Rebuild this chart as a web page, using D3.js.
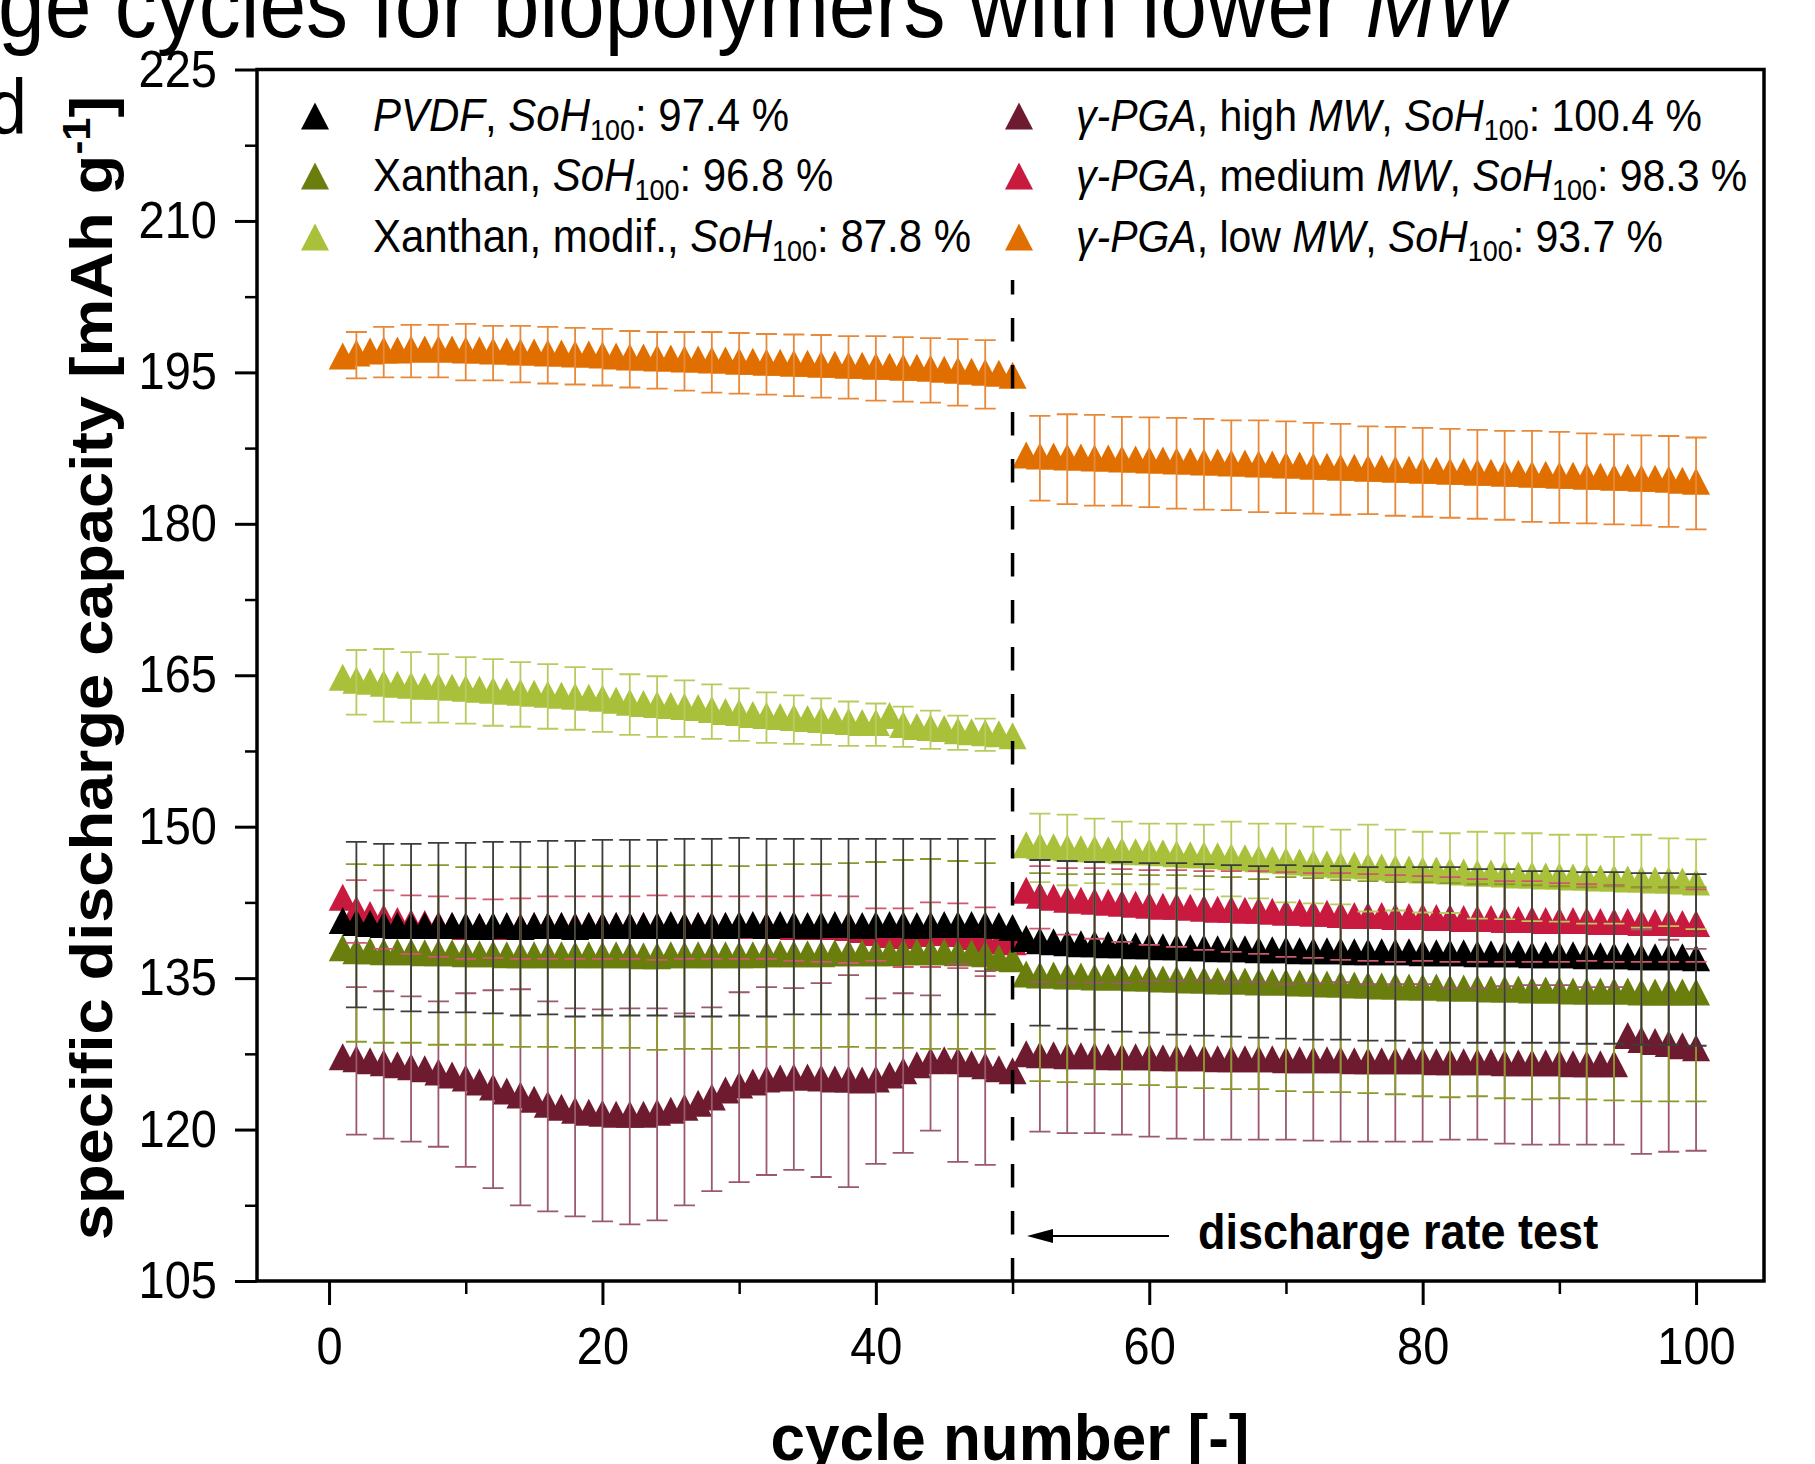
<!DOCTYPE html>
<html><head><meta charset="utf-8">
<script src="https://cdn.jsdelivr.net/npm/d3@7"></script>
<style>
body{margin:0;background:#fff}
svg{display:block}
text{font-family:"Liberation Sans",Arial,Helvetica,sans-serif;fill:#000}
</style>
</head><body>
<svg id="chart" width="1815" height="1464"></svg>
<script>
// ---------------- data ----------------
const cycles = [1,2,3,4,5,6,7,8,9,10,11,12,13,14,15,16,17,18,19,20,21,22,23,24,25,26,27,28,29,30,31,32,33,34,35,36,37,38,39,40,41,42,43,44,45,46,47,48,49,50,
51,52,53,54,55,56,57,58,59,60,61,62,63,64,65,66,67,68,69,70,71,72,73,74,75,76,77,78,79,80,81,82,83,84,85,86,87,88,89,90,91,92,93,94,95,96,97,98,99,100];
const errCycles = [2,4,6,8,10,12,14,16,18,20,22,24,26,28,30,32,34,36,38,40,42,44,46,48,
52,54,56,58,60,62,64,66,68,70,72,74,76,78,80,82,84,86,88,90,92,94,96,98,100];

const pvdf = [140.5,140.3,140.2,140.1,140.0,140.0,140.0,140.0,140.0,140.0,
139.9,140.0,140.0,139.9,140.0,140.0,140.0,139.9,140.0,140.0,
140.0,140.0,140.0,140.0,140.1,140.0,140.0,140.0,140.0,140.1,
140.1,140.0,140.1,140.1,140.0,140.1,140.1,140.1,140.0,140.1,
140.1,140.1,140.0,140.1,140.1,140.1,140.1,140.1,140.0,139.8,
138.7,138.5,138.4,138.3,138.2,138.2,138.1,138.1,138.0,138.0,
137.9,137.9,137.8,137.8,137.7,137.7,137.7,137.6,137.6,137.6,
137.5,137.5,137.5,137.5,137.4,137.4,137.4,137.4,137.4,137.3,
137.3,137.3,137.3,137.2,137.2,137.2,137.2,137.1,137.1,137.1,
137.1,137.0,137.0,137.0,137.0,136.9,136.9,136.9,136.9,136.8];
const pvdfErr = [8.2,8.2,8.3,8.4,8.4,8.5,8.6,8.6,8.7,8.7,8.7,8.7,8.8,8.8,8.8,8.8,8.7,8.7,8.7,8.7,8.7,8.7,8.7,8.7,
8.2,8.3,8.3,8.4,8.4,8.5,8.5,8.5,8.5,8.6,8.6,8.6,8.6,8.6,8.7,8.7,8.6,8.6,8.5,8.5,8.5,8.5,8.5,8.5,8.5];

const xanthan = [137.8,137.5,137.5,137.4,137.4,137.4,137.3,137.3,137.3,137.2,
137.2,137.2,137.1,137.1,137.1,137.1,137.1,137.1,137.1,137.1,
137.1,137.1,137.0,137.0,137.1,137.1,137.1,137.1,137.1,137.1,
137.1,137.2,137.2,137.2,137.2,137.2,137.3,137.3,137.3,137.3,
137.3,137.4,137.4,137.4,137.4,137.3,137.3,137.2,136.8,136.7,
135.2,135.1,135.1,135.0,135.0,134.9,134.9,134.9,134.8,134.8,
134.7,134.7,134.6,134.6,134.5,134.5,134.5,134.4,134.4,134.4,
134.3,134.3,134.2,134.2,134.1,134.1,134.0,134.0,133.9,133.9,
133.9,133.8,133.8,133.8,133.7,133.7,133.7,133.6,133.6,133.6,
133.5,133.5,133.5,133.5,133.5,133.4,133.4,133.4,133.4,133.4];
const xanthanErr = [8.8,8.8,8.8,8.9,8.8,8.8,8.9,8.9,9.0,9.0,9.0,9.1,9.1,9.1,9.0,9.0,9.1,9.1,9.1,9.2,9.3,9.4,9.3,9.2,
10.3,10.3,10.4,10.4,10.4,10.5,10.5,10.5,10.4,10.6,10.6,10.5,10.5,10.5,10.6,10.6,10.5,10.6,10.6,10.5,10.5,10.6,10.6,10.6,10.6];

const xanthanMod = [164.6,164.3,164.2,164.0,163.9,163.8,163.7,163.7,163.6,163.5,
163.4,163.3,163.2,163.1,163.0,162.9,162.8,162.7,162.6,162.5,
162.3,162.1,162.0,161.9,161.8,161.7,161.6,161.4,161.2,161.1,
160.9,160.8,160.7,160.6,160.5,160.4,160.3,160.2,160.1,160.1,
160.8,159.9,159.7,159.6,159.5,159.3,159.2,159.1,159.0,158.8,
148.0,147.9,147.8,147.7,147.6,147.6,147.5,147.4,147.3,147.3,
147.2,147.1,147.0,147.0,146.9,146.8,146.7,146.6,146.5,146.4,
146.3,146.2,146.1,146.0,146.0,145.9,145.8,145.7,145.6,145.5,
145.5,145.4,145.3,145.2,145.2,145.1,145.0,145.0,144.9,144.9,
144.8,144.8,144.7,144.7,144.6,144.6,144.5,144.5,144.4,144.3];
const xanthanModErr = [3.2,3.6,3.5,3.4,3.3,3.3,3.2,3.2,3.1,3.1,3.0,3.0,2.8,2.7,2.6,2.5,2.4,2.3,2.2,2.1,2.0,1.9,1.7,1.6,
3.4,3.5,3.2,3.1,3.0,3.2,3.2,3.7,3.7,3.9,3.8,3.7,4.3,4.0,4.0,3.95,4.3,4.25,4.35,4.3,4.4,4.3,4.6,4.35,4.45];

const pgaHigh = [127.0,126.8,126.6,126.4,126.2,126.0,125.8,125.5,125.2,124.9,
124.5,124.0,123.6,123.2,122.8,122.3,122.0,121.7,121.5,121.4,
121.3,121.3,121.3,121.5,121.7,122.0,122.4,123.0,123.7,124.2,
124.5,124.8,124.9,125.0,125.0,124.9,124.8,124.8,124.7,124.8,
125.2,125.6,126.2,126.6,126.7,126.6,126.3,126.1,125.8,125.6,
127.3,127.2,127.2,127.1,127.1,127.1,127.0,127.0,127.0,127.0,
126.9,126.9,126.9,126.9,126.8,126.8,126.8,126.8,126.8,126.7,
126.7,126.7,126.7,126.7,126.6,126.6,126.6,126.6,126.6,126.6,
126.5,126.5,126.5,126.5,126.5,126.4,126.4,126.4,126.4,126.4,
126.3,126.3,126.3,126.3,129.1,128.7,128.5,128.3,128.1,127.9];
const pgaHighErr = [7.3,7.3,7.2,7.2,8.6,9.8,10.7,10.4,10.3,10.5,10.7,10.5,9.5,9.1,9.4,9.3,9.0,9.6,10.5,8.2,7.9,6.7,9.8,9.6,
7.4,7.45,7.45,7.5,7.7,7.8,7.9,7.8,7.8,7.7,7.8,7.9,7.8,7.8,7.8,7.5,7.5,7.8,7.9,7.9,7.8,7.8,11.1,10.5,10.0];

const pgaMedium = [142.8,141.6,141.1,140.8,140.5,140.3,140.2,140.1,140.0,139.9,
139.9,139.9,139.9,139.9,140.0,140.0,140.0,140.0,140.0,140.0,
140.0,140.0,140.0,140.0,140.0,140.0,140.0,140.0,140.0,140.0,
140.0,140.0,140.0,139.9,139.9,139.9,139.9,139.8,139.6,139.3,
139.1,139.0,139.2,139.3,139.3,139.2,138.9,138.6,138.5,138.4,
143.5,143.0,142.8,142.6,142.5,142.4,142.3,142.2,142.1,142.0,
141.9,141.9,141.8,141.7,141.6,141.6,141.5,141.5,141.4,141.3,
141.3,141.2,141.2,141.1,141.0,141.0,141.0,140.9,140.9,140.9,
140.8,140.8,140.7,140.7,140.7,140.6,140.6,140.6,140.5,140.5,
140.5,140.5,140.4,140.4,140.4,140.3,140.3,140.3,140.2,140.2];
const pgaMediumErr = [3.1,2.9,2.9,3.0,3.0,2.9,3.0,3.1,3.1,3.1,3.1,3.2,3.1,3.1,3.1,3.1,3.2,3.3,3.3,2.6,2.9,3.2,3.2,3.4,
3.1,3.3,3.5,3.6,3.7,3.8,3.9,4.0,4.1,4.2,4.2,4.3,4.3,4.3,4.2,4.2,4.1,4.0,4.0,3.9,3.8,3.8,3.7,3.7,3.6];

const pgaLow = [196.4,196.7,196.9,197.0,197.0,197.1,197.1,197.1,197.1,197.0,
197.0,196.9,196.9,196.8,196.8,196.7,196.7,196.6,196.6,196.5,
196.4,196.3,196.3,196.2,196.2,196.1,196.1,196.0,196.0,195.9,
195.9,195.8,195.8,195.7,195.7,195.6,195.6,195.5,195.5,195.4,
195.4,195.3,195.3,195.2,195.1,195.0,194.9,194.8,194.7,194.5,
186.6,186.5,186.5,186.4,186.4,186.3,186.3,186.2,186.2,186.1,
186.1,186.0,186.0,185.9,185.9,185.8,185.8,185.7,185.7,185.6,
185.6,185.5,185.5,185.4,185.4,185.3,185.3,185.2,185.2,185.1,
185.1,185.0,185.0,184.9,184.9,184.8,184.8,184.7,184.7,184.6,
184.6,184.5,184.5,184.4,184.4,184.3,184.3,184.2,184.1,184.0];
const pgaLowErr = [2.3,2.5,2.6,2.6,2.8,2.7,2.8,2.8,2.8,2.8,2.8,2.8,2.9,3.0,3.0,3.0,3.05,3.1,3.1,3.2,3.2,3.2,3.3,3.4,
4.2,4.45,4.5,4.4,4.45,4.5,4.5,4.45,4.55,4.55,4.5,4.5,4.35,4.4,4.4,4.4,4.4,4.4,4.5,4.5,4.45,4.45,4.45,4.5,4.55];

const yTicks = [105,120,135,150,165,180,195,210,225];
const yMinor = [112.5,127.5,142.5,157.5,172.5,187.5,202.5,217.5];
const xTicks = [0,20,40,60,80,100];
const xMinor = [10,30,50,70,90];

const legendLabels = [
  [["PVDF","i"],[", ",""],["SoH","i"],["100","sub"],[": 97.4 %",""]],
  [["Xanthan, ",""],["SoH","i"],["100","sub"],[": 96.8 %",""]],
  [["Xanthan, modif., ",""],["SoH","i"],["100","sub"],[": 87.8 %",""]],
  [["γ-PGA","i"],[", high ",""],["MW","i"],[", ",""],["SoH","i"],["100","sub"],[": 100.4 %",""]],
  [["γ-PGA","i"],[", medium ",""],["MW","i"],[", ",""],["SoH","i"],["100","sub"],[": 98.3 %",""]],
  [["γ-PGA","i"],[", low ",""],["MW","i"],[", ",""],["SoH","i"],["100","sub"],[": 93.7 %",""]]
];

// ---------------- series setup ----------------
const series = [
  {key:"pvdf",   values:pvdf,       err:pvdfErr,       color:"#000000", errColor:"#3c3c3c"},
  {key:"xan",    values:xanthan,    err:xanthanErr,    color:"#6a7e0e", errColor:"#8a9a2a"},
  {key:"xanmod", values:xanthanMod, err:xanthanModErr, color:"#a9c13a", errColor:"#b8cb5e"},
  {key:"high",   values:pgaHigh,    err:pgaHighErr,    color:"#6e1b30", errColor:"#9a5a6c"},
  {key:"med",    values:pgaMedium,  err:pgaMediumErr,  color:"#c8193f", errColor:"#d4566f"},
  {key:"low",    values:pgaLow,     err:pgaLowErr,     color:"#e06f00", errColor:"#e8893a"}
];
const markerOrder = ["low","xanmod","high","med","xan","pvdf"];
const errOrder = ["low","xanmod","high","med","xan","pvdf"];
const byKey = k => series.find(s => s.key === k);

// ---------------- layout ----------------
const svg = d3.select("#chart");
const X0 = 257, X1 = 1764, Y0 = 69.5, Y1 = 1281;
const x = d3.scaleLinear().domain([-5.27, 104.97]).range([X0, X1]);
const y = d3.scaleLinear().domain([105, 225]).range([Y1, Y0]);
const STR = 1.1; // vertical stretch of text in the reference

// title line (cut at top) and panel letter
const title = svg.append("text").attr("transform", `translate(-2,37) scale(1,${STR})`)
  .style("font-size", "84px");
title.append("tspan").text("ge cycles for biopolymers with lower ");
title.append("tspan").style("font-style", "italic").text("MW");

svg.append("text").attr("transform", `translate(-12,134) scale(1,${STR})`)
  .style("font-size", "70px").text("d");

// markers
const TW = 28, TH = 27;
const triPath = (cx, cy, up) => {
  const top = cy - TH * up, bot = cy + TH * (1 - up);
  return `M${cx},${top}L${cx + TW/2},${bot}L${cx - TW/2},${bot}Z`;
};
const plot = svg.append("g");
markerOrder.forEach(k => {
  const s = byKey(k);
  plot.append("g").selectAll("path").data(cycles.map((c, i) => [c, s.values[i]]))
    .join("path")
    .attr("d", d => triPath(x(d[0]), y(d[1]), 0.58))
    .attr("fill", s.color);
});

// error bars
const CAP = 21;
errOrder.forEach(k => {
  const s = byKey(k);
  const g = plot.append("g").attr("stroke", s.errColor).attr("stroke-width", 1.8).attr("fill", "none");
  const data = errCycles.map((c, i) => ({c, v: s.values[cycles.indexOf(c)], e: s.err[i]}));
  g.selectAll("path").data(data).join("path")
    .attr("d", d => {
      const cx = x(d.c), t = y(d.v + d.e), b = y(d.v - d.e);
      return `M${cx},${t}L${cx},${b}M${cx - CAP/2},${t}H${cx + CAP/2}M${cx - CAP/2},${b}H${cx + CAP/2}`;
    });
});

// dashed separator at cycle 50
svg.append("line").attr("x1", x(50)).attr("x2", x(50)).attr("y1", 280).attr("y2", Y1)
  .attr("stroke", "#000").attr("stroke-width", 3.5)
  .attr("stroke-dasharray", "23.5,23.5").attr("stroke-dashoffset", 9);

// annotation
svg.append("line").attr("x1", 1169).attr("x2", 1045).attr("y1", 1236).attr("y2", 1236)
  .attr("stroke", "#000").attr("stroke-width", 2);
svg.append("path").attr("d", "M1027,1236L1053,1229L1053,1243Z").attr("fill", "#000");
svg.append("text").attr("transform", `translate(1198,1249) scale(1,${STR})`)
  .style("font-size", "45px").style("font-weight", "bold").text("discharge rate test");

// axes
const yAxis = svg.append("g").attr("transform", `translate(${X0},0)`)
  .call(d3.axisLeft(y).tickValues(yTicks).tickSize(22).tickPadding(18).tickFormat(d3.format("d")));
yAxis.select(".domain").remove();
yAxis.selectAll(".tick line").attr("stroke-width", 3);
yAxis.selectAll(".tick text").style("font-size", "47px").attr("fill", "#000")
  .attr("transform", `scale(1,${STR})`).style("font-family", '"Liberation Sans",Arial,sans-serif');
const yMin = svg.append("g").attr("transform", `translate(${X0},0)`)
  .call(d3.axisLeft(y).tickValues(yMinor).tickSize(12).tickFormat(""));
yMin.select(".domain").remove();
yMin.selectAll(".tick line").attr("stroke-width", 2.5);

const xAxis = svg.append("g").attr("transform", `translate(0,${Y1})`)
  .call(d3.axisBottom(x).tickValues(xTicks).tickSize(24).tickPadding(18).tickFormat(d3.format("d")));
xAxis.select(".domain").remove();
xAxis.selectAll(".tick line").attr("stroke-width", 3);
xAxis.selectAll(".tick text").style("font-size", "47px").attr("fill", "#000")
  .attr("transform", `scale(1,${STR})`).style("font-family", '"Liberation Sans",Arial,sans-serif');
const xMin = svg.append("g").attr("transform", `translate(0,${Y1})`)
  .call(d3.axisBottom(x).tickValues(xMinor).tickSize(13).tickFormat(""));
xMin.select(".domain").remove();
xMin.selectAll(".tick line").attr("stroke-width", 2.5);

// frame
svg.append("rect").attr("x", X0).attr("y", Y0).attr("width", X1 - X0).attr("height", Y1 - Y0)
  .attr("fill", "none").attr("stroke", "#000").attr("stroke-width", 3.5);

// axis titles
svg.append("text").attr("transform", `translate(1010,1460) scale(1,1.04)`)
  .attr("text-anchor", "middle").style("font-size", "62px").style("font-weight", "bold")
  .text("cycle number [-]");
const yt = svg.append("text").attr("transform", `translate(112,668) rotate(-90) scale(1.1,1)`)
  .attr("text-anchor", "middle").style("font-size", "59px").style("font-weight", "bold");
yt.append("tspan").text("specific discharge capacity [mAh g");
yt.append("tspan").attr("dy", -22).style("font-size", "38px").text("-1");
yt.append("tspan").attr("dy", 22).text("]");

// legend
const legX = [315, 1019], legTextX = [373, 1076], legY = [116, 176, 237];
legendLabels.forEach((parts, i) => {
  const col = Math.floor(i / 3), row = i % 3;
  const s = series[i];
  svg.append("path").attr("d", triPath(legX[col], legY[row], 0.5)).attr("fill", s.color);
  const t = svg.append("text")
    .attr("transform", `translate(${legTextX[col]},${legY[row] + 15}) scale(1,${STR})`)
    .style("font-size", col === 1 ? "41px" : "42px");
  let shifted = false;
  parts.forEach(([txt, st]) => {
    const sp = t.append("tspan").text(txt);
    if (st === "i") sp.style("font-style", "italic");
    if (st === "sub") { sp.style("font-size", "27px").attr("dy", 8); shifted = true; }
    else if (shifted) { sp.attr("dy", -8); shifted = false; }
  });
});
</script>
</body></html>
